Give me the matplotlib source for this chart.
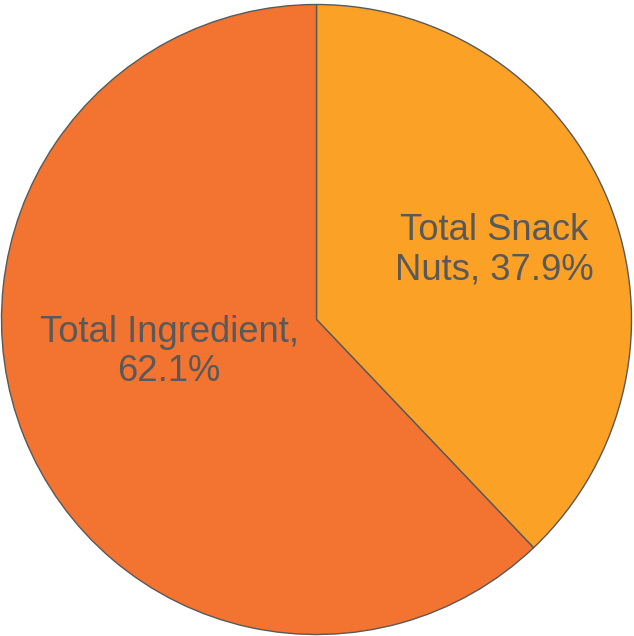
import matplotlib.pyplot as plt

labels = ['Total Snack\nNuts, 37.9%', 'Total Ingredient,\n62.1%']
shares = [37.9, 62.1]
colors = ['#FBA226', '#F27430']

plt.rcParams['font.family'] = ['Liberation Sans', 'DejaVu Sans']

fig = plt.figure(figsize=(6.34, 6.36), dpi=100)
ax = fig.add_axes([0, 0, 1, 1])

wedges, _ = ax.pie(shares, colors=colors, startangle=90, counterclock=False,
                   radius=1.0, wedgeprops=dict(edgecolor='#595959', linewidth=1.0))

# label spots picked to match the original layout
label_pos = [(0.563, 0.221), (-0.468, -0.103)]
for text, (x, y) in zip(labels, label_pos):
    ax.text(x, y, text, ha='center', va='center', fontsize=26.2,
            color='#595959', linespacing=1.17)

ax.set_aspect('auto')
ax.set_xlim(-316.5 / 315, (634 - 316.5) / 315)
ax.set_ylim(-316.5 / 315, (636 - 316.5) / 315)
ax.axis('off')

fig.savefig('out.png', dpi=100)
